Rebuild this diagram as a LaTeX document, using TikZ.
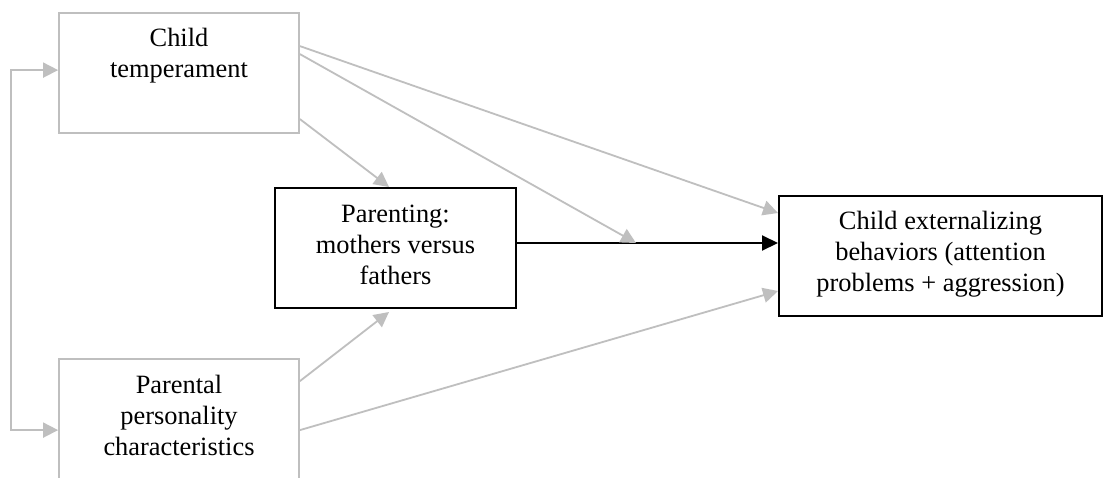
\documentclass[tikz,border=0pt]{standalone}
\usepackage{fontspec}
\setmainfont{Liberation Serif}
\usetikzlibrary{arrows.meta,calc}

\tikzset{
  graybox/.style={draw=black!25, line width=1.8pt, rectangle, inner sep=0pt},
  blackbox/.style={draw=black, line width=2pt, rectangle, inner sep=0pt},
  boxtext/.style={inner sep=0pt, anchor=north, align=center,
    font=\fontsize{26.4}{31}\selectfont},
  garrow/.style={draw=black!25, line width=1.8pt,
    -{Triangle[length=15pt,width=15pt,fill=black!25]}},
  barrow/.style={draw=black, line width=2pt,
    -{Triangle[length=16pt,width=15pt]}}
}

\begin{document}
\begin{tikzpicture}[x=1pt,y=-1pt]
  \clip (0,0) rectangle (1107,477);
  \fill[white] (0,0) rectangle (1107,477);

  % boxes
  \node[graybox, minimum width=240pt, minimum height=120pt] (ct) at (179,73) {};
  \node[graybox, minimum width=240pt, minimum height=124pt] (pp) at (179,421) {};
  \node[blackbox, minimum width=241pt, minimum height=120pt] (par) at (395.5,248) {};
  \node[blackbox, minimum width=323pt, minimum height=120pt] (ext) at (940.5,256) {};

  % box texts
  \node[boxtext] (ctt) at ($(ct.north)+(0,16)$) {Child\\temperament};
  \node[boxtext] (ppt) at ($(pp.north)+(0,17)$) {Parental\\personality\\characteristics};
  \node[boxtext] (part) at ($(par.north)+(0,17.5)$) {Parenting:\\mothers versus\\fathers};
  \node[boxtext] (extt) at ($(ext.north)+(0,16)$) {Child externalizing\\behaviors (attention\\problems + aggression)};

  % mutual association of the two predictors
  \draw[draw=black!25, line width=1.8pt,
        {Triangle[length=15pt,width=15pt,fill=black!25]}-{Triangle[length=15pt,width=15pt,fill=black!25]}]
    ($(ct.north west)+(0,58)$) -- ++(-47,0) |- ($(pp.north west)+(0,72)$);

  % main path: parenting -> outcome
  \coordinate (pout) at ($(par.north east)+(0,56)$);
  \coordinate (pin) at (pout -| ext.west);
  \draw[barrow] (pout) -- (pin);
  \coordinate (mod) at ($(pout)+(119,0)$);

  % direct and moderating paths
  \draw[garrow] ($(ct.north east)+(0,34)$) -- ($(ext.north west)+(0,18)$);
  \draw[garrow] ($(ct.north east)+(0,42)$) -- (mod);
  \draw[garrow] ($(ct.north east)+(0,107)$) -- ($(par.north west)+(115,0)$);
  \draw[garrow] ($(pp.north east)+(0,23)$) -- ($(par.south west)+(115,3)$);
  \draw[garrow] ($(pp.north east)+(0,72)$) -- ($(ext.south west)+(0,-26)$);
\end{tikzpicture}
\end{document}
